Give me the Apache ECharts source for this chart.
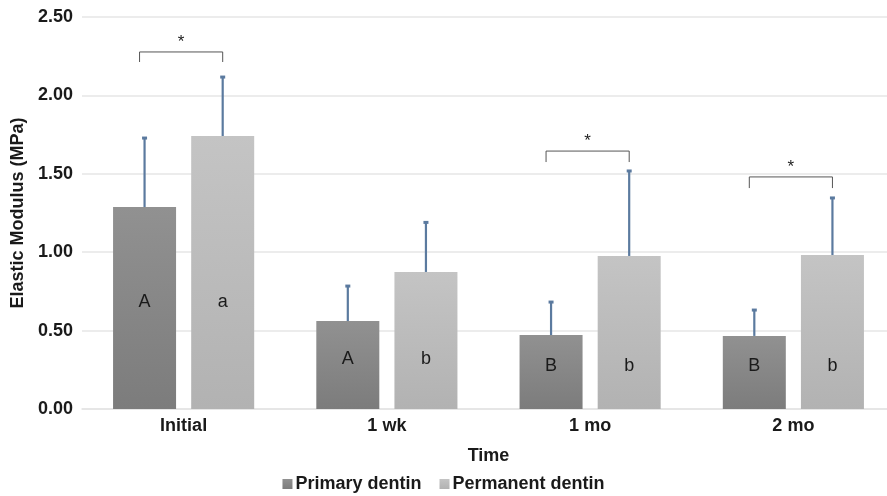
<!DOCTYPE html>
<html>
<head>
<meta charset="utf-8">
<script src="https://cdn.jsdelivr.net/npm/echarts@6/dist/echarts.min.js"></script>
<style>html,body{margin:0;padding:0;background:#fff}#c{width:887px;height:496px}</style>
</head>
<body>
<div id="c"></div>
<script>
const categories = ['Initial', '1 wk', '1 mo', '2 mo'];
const primaryMean = [1.288, 0.561, 0.472, 0.466];
const primaryErrTop = [1.728, 0.784, 0.682, 0.631];
const permanentMean = [1.741, 0.874, 0.976, 0.982];
const permanentErrTop = [2.117, 1.190, 1.518, 1.346];
const primaryLetters = ['A', 'A', 'B', 'B'];
const permanentLetters = ['a', 'b', 'b', 'b'];
// significance brackets
const sigCats = [0, 2, 3];
const sigLegBottom = [2.213, 1.575, 1.409];
const sigTop = [2.277, 1.645, 1.480];
const yTicks = ['0.00', '0.50', '1.00', '1.50', '2.00', '2.50'];

const BAR_W = 0.31, GAP = 0.24;
function offsetFor(bw, s) {
  const w = bw * BAR_W, g = w * GAP;
  return (s === 0 ? -1 : 1) * (w + g) / 2;
}

const chart = echarts.init(document.getElementById('c'), null, {renderer: 'canvas'});
const font = '"Liberation Sans", Arial, sans-serif';

const errData = [];
categories.forEach((c, i) => {
  errData.push([i, primaryMean[i], primaryErrTop[i], 0]);
  errData.push([i, permanentMean[i], permanentErrTop[i], 1]);
});
const sigData = sigCats.map((c, k) => [c, sigLegBottom[k], sigTop[k]]);
const letterData = categories.map((c, i) => [i, primaryMean[i] / 2]);

chart.setOption({
  animation: false,
  textStyle: {fontFamily: font},
  grid: {left: 82, width: 813, top: 17, bottom: 87, containLabel: false, outerBoundsMode: 'none'},
  legend: {
    data: ['Primary dentin', 'Permanent dentin'],
    top: 470, left: 'center',
    itemWidth: 10, itemHeight: 10, itemGap: 18,
    icon: 'rect',
    textStyle: {fontSize: 18, fontWeight: 'bold', color: '#1a1a1a', fontFamily: font, padding: [0, 0, 0, -2]}
  },
  xAxis: {
    type: 'category',
    data: categories,
    name: 'Time',
    nameLocation: 'middle',
    nameGap: 38,
    nameTextStyle: {fontSize: 18, fontWeight: 'bold', color: '#1a1a1a'},
    axisLine: {lineStyle: {color: '#e3e3e3', width: 1.5}},
    axisTick: {show: false},
    axisLabel: {fontSize: 18, fontWeight: 'bold', color: '#1a1a1a', margin: 8}
  },
  yAxis: {
    type: 'value',
    min: 0, max: 2.5, interval: 0.5,
    name: 'Elastic Modulus (MPa)',
    nameLocation: 'middle',
    nameGap: 53,
    nameTextStyle: {fontSize: 18, fontWeight: 'bold', color: '#1a1a1a'},
    axisLine: {show: false},
    axisTick: {show: false},
    splitLine: {lineStyle: {color: '#e6e6e6', width: 1.5}},
    axisLabel: {
      fontSize: 18, fontWeight: 'bold', color: '#1a1a1a', margin: 9,
      formatter: v => yTicks[Math.round(v / 0.5)]
    }
  },
  series: [
    {
      name: 'Primary dentin', type: 'bar',
      data: primaryMean,
      barWidth: (BAR_W * 100) + '%', barGap: (GAP * 100) + '%',
      itemStyle: {color: new echarts.graphic.LinearGradient(0, 0, 0, 1, [
        {offset: 0, color: '#919191'}, {offset: 1, color: '#7c7c7c'}])}
    },
    {
      name: 'Permanent dentin', type: 'bar',
      data: permanentMean,
      barWidth: (BAR_W * 100) + '%',
      itemStyle: {color: new echarts.graphic.LinearGradient(0, 0, 0, 1, [
        {offset: 0, color: '#c4c4c4'}, {offset: 1, color: '#b2b2b2'}])}
    },
    {
      type: 'custom', name: 'letters', silent: true, z: 6,
      data: letterData,
      encode: {x: 0, y: 1},
      renderItem: function (params, api) {
        const ci = api.value(0);
        const bw = api.size([1, 0])[0];
        const p = api.coord([ci, api.value(1)]);
        const mk = (s, t) => ({type: 'text', style: {text: t, x: p[0] + offsetFor(bw, s), y: p[1] - 6,
          align: 'center', verticalAlign: 'middle', fontSize: 18, fill: '#1a1a1a', fontFamily: font}});
        return {type: 'group', children: [mk(0, primaryLetters[ci]), mk(1, permanentLetters[ci])]};
      }
    },
    {
      type: 'custom', name: 'err', silent: true, z: 5,
      data: errData,
      encode: {x: 0, y: [1, 2]},
      renderItem: function (params, api) {
        const ci = api.value(0), s = api.value(3);
        const bw = api.size([1, 0])[0];
        const base = api.coord([ci, api.value(1)]);
        const top = api.coord([ci, api.value(2)]);
        const x = base[0] + offsetFor(bw, s);
        const st = {stroke: '#5b7a9f', lineWidth: 2.2};
        return {type: 'group', children: [
          {type: 'line', shape: {x1: x, y1: base[1], x2: x, y2: top[1]}, style: st},
          {type: 'line', shape: {x1: x - 2.5, y1: top[1], x2: x + 2.5, y2: top[1]}, style: {stroke: '#5b7a9f', lineWidth: 3}}
        ]};
      }
    },
    {
      type: 'custom', name: 'sig', silent: true, z: 5,
      data: sigData,
      encode: {x: 0, y: [1, 2]},
      renderItem: function (params, api) {
        const ci = api.value(0);
        const bw = api.size([1, 0])[0];
        const lo = api.coord([ci, api.value(1)]);
        const hi = api.coord([ci, api.value(2)]);
        const x1 = lo[0] + offsetFor(bw, 0) - 5, x2 = lo[0] + offsetFor(bw, 1);
        const st = {stroke: '#555', lineWidth: 1, fill: null};
        return {type: 'group', children: [
          {type: 'polyline', shape: {points: [[x1, lo[1]], [x1, hi[1]], [x2, hi[1]], [x2, lo[1]]]}, style: st},
          {type: 'text', style: {text: '*', x: (x1 + x2) / 2, y: hi[1] - 1, align: 'center', verticalAlign: 'bottom',
            fontSize: 17, fill: '#222', fontFamily: font}}
        ]};
      }
    }
  ]
});
</script>
</body>
</html>
